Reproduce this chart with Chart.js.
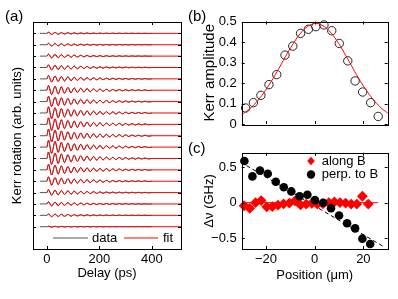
<!DOCTYPE html>
<html>
<head>
<meta charset="utf-8">
<script src="https://cdn.jsdelivr.net/npm/chart.js@4.4.0/dist/chart.umd.min.js"></script>
<style>
body { margin: 0; background: #fff; width: 398px; height: 299px; overflow: hidden; position: relative;
       font-family: "Liberation Sans", Arial, Helvetica, sans-serif; }
canvas { position: absolute; }
.tag { position: absolute; font-size: 15px; line-height: 15px; }
</style>
</head>
<body>
<canvas id="chartA" width="200" height="299" style="left:0;top:0"></canvas>
<canvas id="chartB" width="198" height="140" style="left:200px;top:0"></canvas>
<canvas id="chartC" width="198" height="159" style="left:200px;top:140px"></canvas>
<div class="tag" style="left:5px;top:8px">(a)</div>
<div class="tag" style="left:188px;top:8px">(b)</div>
<div class="tag" style="left:188px;top:140px">(c)</div>
<script>
// (b) Kerr amplitude per spot position, and the gaussian fit
const kerrPos = [-28.4, -25.2, -22.1, -18.8, -15.6, -12.2, -9.0, -5.8, -2.6, 0.5, 3.8, 7.0, 10.1, 13.6, 16.6, 19.7, 23.0, 26.1];
const kerrAmp = [0.078, 0.104, 0.14, 0.192, 0.241, 0.336, 0.38, 0.442, 0.462, 0.475, 0.483, 0.455, 0.393, 0.308, 0.21, 0.156, 0.104, 0.037];
const fitPos = [-30, -27, -24, -21, -18, -15, -12, -9, -6, -3, 0, 3, 6, 9, 12, 15, 18, 21, 24, 27, 30];
const fitAmp = [0.046, 0.071, 0.106, 0.151, 0.205, 0.265, 0.329, 0.389, 0.44, 0.475, 0.49, 0.482, 0.454, 0.408, 0.35, 0.287, 0.224, 0.168, 0.12, 0.082, 0.053];

// (a) one Kerr trace per spot (top to bottom = kerrAmp order); extrema of the precession
const peakTimes = [6, 18, 31, 43, 55, 67, 80, 92, 104, 116, 129, 141, 153, 165, 178, 190, 202, 214, 227, 239, 251, 263, 276, 288, 300, 312, 325, 337, 349, 361, 374, 386];
const peakEnv = [0.96, 0.88, 0.8, 0.74, 0.68, 0.62, 0.57, 0.52, 0.48, 0.44, 0.4, 0.37, 0.34, 0.31, 0.28, 0.26, 0.24, 0.22, 0.2, 0.18, 0.17, 0.15, 0.14, 0.13, 0.12, 0.11, 0.1, 0.09, 0.08, 0.08, 0.07, 0.06];
const delayTicks = [0, 200, 400];
const traceGain = 1.3;

// (c) frequency shift vs position
const alongPos = [-29.0, -26.7, -24.3, -22.0, -19.7, -17.4, -15.1, -12.8, -10.4, -8.1, -5.8, -3.5, -1.2, 1.1, 3.4, 5.8, 8.1, 10.4, 12.7, 15.0, 17.3, 19.6, 22.0];
const alongShift = [-0.043, -0.079, 0.0, 0.03, -0.058, -0.055, -0.034, -0.018, -0.005, 0.025, -0.032, -0.02, -0.01, -0.02, -0.015, 0.0, 0.01, 0.0, -0.005, -0.02, -0.02, 0.09, -0.02];
const perpPos = [-28.9, -25.6, -22.5, -19.3, -16.0, -12.7, -9.6, -6.2, -3.0, 0.1, 3.5, 6.7, 10.0, 13.3, 16.6, 19.6, 22.8];
const perpShift = [0.585, 0.369, 0.45, 0.405, 0.293, 0.216, 0.158, 0.09, 0.112, 0.036, 0.0, -0.077, -0.18, -0.288, -0.36, -0.505, -0.58];
const trendPos = [-28, 28.5];
const trendShift = [0.52, -0.62];
const alongFitPos = [-29.6, 26];
const alongFitShift = [0, 0];
const posTicks = [-20, 0, 20];
const ampTicks = [0, 0.1, 0.2, 0.3, 0.4, 0.5];
const shiftTicks = [-0.5, 0, 0.5];

const chartFont = '"Liberation Sans", Arial, Helvetica, sans-serif';
Chart.defaults.font.family = chartFont;
Chart.defaults.font.size = 13;
Chart.defaults.color = '#000';
Chart.defaults.animation = false;
Chart.defaults.plugins.legend.display = false;
Chart.defaults.plugins.tooltip.enabled = false;

const dataGray = '#555';
const noGrid = { display: false, drawTicks: false };

// matlab style box with inward ticks on all four sides
const frame = {
    id: 'frame',
    afterDatasetsDraw(chart) {
        const { ctx, chartArea: a } = chart;
        const x = chart.scales.x, y = chart.scales.y;
        const len = 3;
        ctx.save();
        ctx.strokeStyle = '#000';
        ctx.lineWidth = 1;
        ctx.beginPath();
        x.ticks.forEach(t => {
            const px = Math.round(x.getPixelForValue(t.value)) + 0.5;
            ctx.moveTo(px, a.top); ctx.lineTo(px, a.top + len);
            ctx.moveTo(px, a.bottom); ctx.lineTo(px, a.bottom - len);
        });
        y.ticks.forEach(t => {
            const py = Math.round(y.getPixelForValue(t.value)) + 0.5;
            ctx.moveTo(a.left, py); ctx.lineTo(a.left + len, py);
            ctx.moveTo(a.right, py); ctx.lineTo(a.right - len, py);
        });
        ctx.stroke();
        ctx.strokeRect(Math.round(a.left) + 0.5, Math.round(a.top) + 0.5,
            Math.round(a.right - a.left), Math.round(a.bottom - a.top));
        ctx.restore();
    }
};

function drawMark(ctx, mark, color, x, y, r) {
    ctx.strokeStyle = color;
    ctx.fillStyle = color;
    ctx.beginPath();
    if (mark === 'line') {
        ctx.moveTo(x, y); ctx.lineTo(x + r, y);
        ctx.stroke();
        return;
    }
    if (mark === 'diamond') {
        ctx.moveTo(x, y - r * 1.15); ctx.lineTo(x + r, y); ctx.lineTo(x, y + r * 1.15); ctx.lineTo(x - r, y);
        ctx.closePath();
    } else {
        ctx.arc(x, y, r, 0, Math.PI * 2);
    }
    ctx.fill();
}

const keyBox = {
    id: 'keyBox',
    afterDraw(chart, args, opts) {
        if (!opts.items) return;
        const ctx = chart.ctx;
        ctx.save();
        ctx.font = '13px ' + chartFont;
        ctx.textBaseline = 'middle';
        ctx.lineWidth = 1;
        opts.items.forEach(it => {
            drawMark(ctx, it.mark, it.color, it.x, it.y, it.size);
            ctx.fillStyle = '#000';
            ctx.fillText(it.label, it.tx, it.y);
        });
        ctx.restore();
    }
};

function fixedTicks(values) {
    return scale => { scale.ticks = values.map(v => ({ value: v })); };
}
function minusFmt(v) {
    return v < 0 ? '\u2212' + Math.abs(v) : String(v);
}
function pts(xs, ys) {
    return xs.map((x, i) => ({ x: x, y: ys[i] }));
}

// ---------- (a) ----------
const nTraces = kerrAmp.length;
const baselines = kerrAmp.map((a, i) => nTraces - 1 - i);
const fitSets = [];
const dataSets = [];
kerrAmp.forEach((amp, i) => {
    const b = baselines[i];
    const swing = peakTimes.map((t, k) => ({ x: t, y: b + (k % 2 ? -1 : 1) * amp * traceGain * peakEnv[k] }));
    fitSets.push({
        data: [{ x: 0, y: b }, ...swing, { x: 400, y: b }, { x: 511, y: b }],
        borderColor: '#ff0000', borderWidth: 1, pointRadius: 0, cubicInterpolationMode: 'monotone'
    });
    dataSets.push({
        data: [{ x: -27, y: b }, { x: 0, y: b }, ...swing, { x: 400, y: b }],
        borderColor: dataGray, borderWidth: 1, pointRadius: 0, cubicInterpolationMode: 'monotone'
    });
});

new Chart(document.getElementById('chartA'), {
    type: 'line',
    data: { datasets: [...fitSets, ...dataSets] },
    options: {
        responsive: false,
        devicePixelRatio: 1,
        layout: { padding: { top: 22, right: 19, left: 0, bottom: 0 } },
        scales: {
            x: {
                type: 'linear', min: -53, max: 511,
                afterBuildTicks: fixedTicks(delayTicks),
                afterFit: s => { s.height = 50; },
                grid: noGrid, border: { display: false },
                ticks: { padding: 3, maxRotation: 0 },
                title: { display: true, text: 'Delay (ps)', padding: { top: 0, bottom: 18 } }
            },
            y: {
                type: 'linear', min: -1.96, max: 18,
                afterBuildTicks: fixedTicks(baselines),
                afterFit: s => { s.width = 33; },
                grid: noGrid, border: { display: false },
                ticks: { display: false },
                title: { display: true, text: 'Kerr rotation (arb. units)', padding: { top: 10, bottom: 0 } }
            }
        },
        plugins: {
            keyBox: {
                items: [
                    { mark: 'line', color: dataGray, x: 53, y: 238, size: 35, label: 'data', tx: 92 },
                    { mark: 'line', color: '#ff0000', x: 124, y: 238, size: 34, label: 'fit', tx: 163 }
                ]
            }
        }
    },
    plugins: [frame, keyBox]
});

// ---------- (b) ----------
new Chart(document.getElementById('chartB'), {
    type: 'line',
    data: {
        datasets: [
            {
                data: pts(fitPos, fitAmp), borderColor: '#ff0000', borderWidth: 1,
                pointRadius: 0, tension: 0.4, clip: false
            },
            {
                data: pts(kerrPos, kerrAmp), showLine: false, pointRadius: 4.2, pointBorderWidth: 1,
                pointBorderColor: '#222', pointBackgroundColor: 'rgba(0,0,0,0)', clip: false
            }
        ]
    },
    options: {
        responsive: false,
        devicePixelRatio: 1,
        layout: { padding: { top: 21.5, right: 10.3, left: 0, bottom: 0 } },
        scales: {
            x: {
                type: 'linear', min: -30, max: 30,
                afterBuildTicks: fixedTicks(posTicks),
                afterFit: s => { s.height = 16; },
                grid: noGrid, border: { display: false },
                ticks: { display: false }
            },
            y: {
                type: 'linear', min: 0, max: 0.5,
                afterBuildTicks: fixedTicks(ampTicks),
                afterFit: s => { s.width = 41.7; },
                grid: noGrid, border: { display: false },
                ticks: { padding: 5 },
                title: { display: true, text: 'Kerr amplitude', font: { size: 15 }, padding: { top: 1, bottom: 0 } }
            }
        }
    },
    plugins: [frame]
});

// ---------- (c) ----------
new Chart(document.getElementById('chartC'), {
    type: 'line',
    data: {
        datasets: [
            {
                data: pts(perpPos, perpShift), showLine: false, pointRadius: 4.3, pointBorderWidth: 0,
                pointBackgroundColor: '#000', clip: false
            },
            {
                data: pts(alongPos, alongShift), showLine: false, pointStyle: 'rectRot', pointRadius: 5.4,
                pointBorderWidth: 0, pointBackgroundColor: '#ff0000', clip: false
            },
            {
                data: pts(trendPos, trendShift), borderColor: '#000', borderWidth: 1, borderDash: [4, 3], pointRadius: 0
            },
            {
                data: pts(alongFitPos, alongFitShift), borderColor: '#ff0000', borderWidth: 1, pointRadius: 0
            }
        ]
    },
    options: {
        responsive: false,
        devicePixelRatio: 1,
        layout: { padding: { top: 9.3, right: 10.3, left: 0, bottom: 0 } },
        scales: {
            x: {
                type: 'linear', min: -30, max: 30,
                afterBuildTicks: fixedTicks(posTicks),
                afterFit: s => { s.height = 50; },
                grid: noGrid, border: { display: false },
                ticks: { padding: 3, maxRotation: 0, callback: minusFmt },
                title: { display: true, text: 'Position (\u03bcm)', padding: { top: 0, bottom: 16 } }
            },
            y: {
                type: 'linear', min: -0.65, max: 0.7,
                afterBuildTicks: fixedTicks(shiftTicks),
                afterFit: s => { s.width = 41.7; },
                grid: noGrid, border: { display: false },
                ticks: { padding: 5, callback: minusFmt },
                title: { display: true, text: '\u0394\u03bd (GHz)', padding: { top: 2, bottom: 0 } }
            }
        },
        plugins: {
            keyBox: {
                items: [
                    { mark: 'diamond', color: '#ff0000', x: 111, y: 21, size: 3.8, label: 'along B', tx: 121.7 },
                    { mark: 'circle', color: '#000', x: 111, y: 34.5, size: 4.2, label: 'perp. to B', tx: 121.7 }
                ]
            }
        }
    },
    plugins: [frame, keyBox]
});
</script>
</body>
</html>
